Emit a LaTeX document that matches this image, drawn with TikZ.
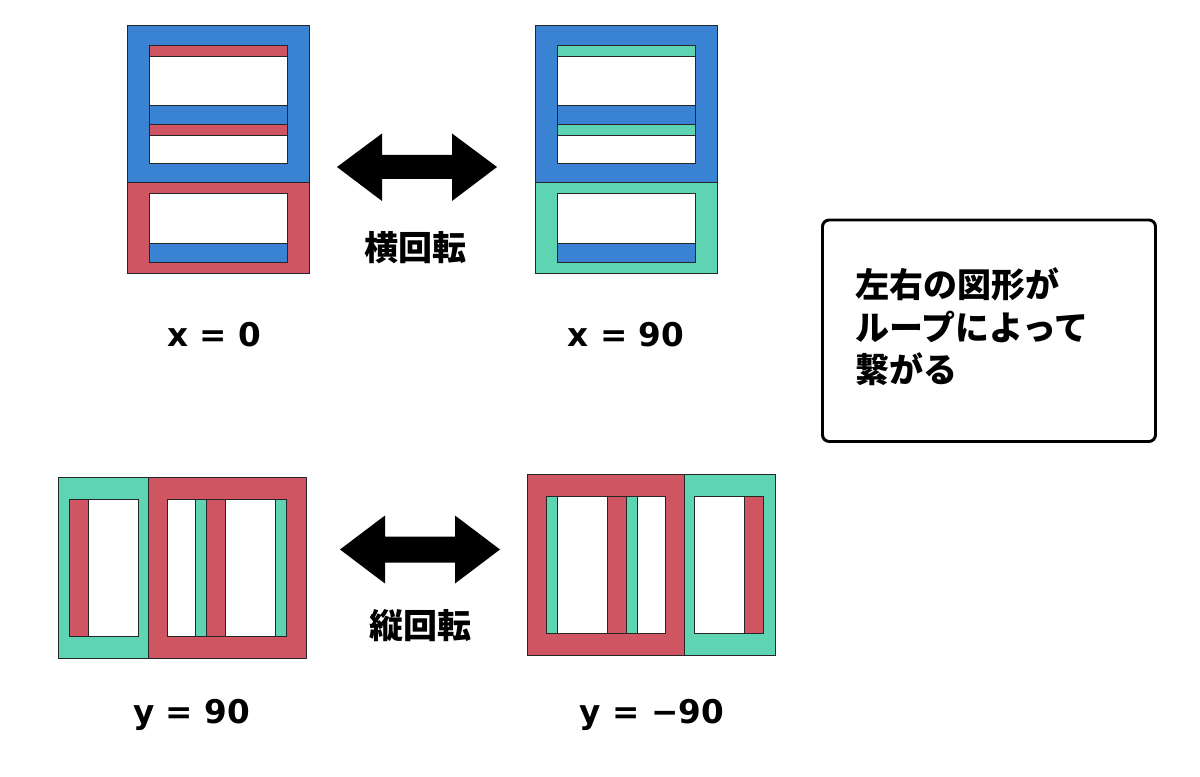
\documentclass[tikz,border=0pt]{standalone}
\usepackage{fontspec}
\setmainfont{Noto Sans CJK JP}
\newfontfamily\valfont{DejaVu Sans}
\usetikzlibrary{positioning}

\definecolor{cblue}{HTML}{3A82D2}
\definecolor{cred}{HTML}{D05562}
\definecolor{cgreen}{HTML}{5ED4B2}

\tikzset{
  part/.style={draw=black!85, line width=0.6pt},
  bluepart/.style={part, fill=cblue},
  redpart/.style={part, fill=cred},
  greenpart/.style={part, fill=cgreen},
  hole/.style={part, fill=white},
  dblarrow/.style={fill=black},
  rotlabel/.style={font=\bfseries\fontsize{25.5pt}{30pt}\selectfont, inner sep=0pt, anchor=center},
  vallabel/.style={font=\valfont\bfseries\fontsize{24.5pt}{29pt}\selectfont, inner sep=0pt, anchor=base},
  notetext/.style={font=\bfseries\fontsize{25.5pt}{30pt}\selectfont, inner sep=0pt, anchor=base west},
}

\begin{document}
\begin{tikzpicture}[x=0.75pt, y=-0.75pt]
    \fill[white] (0,0) rectangle (1200,777);
    \useasboundingbox (0,0) rectangle (1200,777);

    % upper left figure, x = 0
    \draw[bluepart] (127,25.5) rectangle (309,182.5);
    \draw[redpart] (127,182.5) rectangle (309,273);
    \draw[hole] (149,45) rectangle (287,163);
    \draw[redpart] (149,45) rectangle (287,56);
    \draw[bluepart] (149,105.5) rectangle (287,124.5);
    \draw[redpart] (149,124.5) rectangle (287,135.5);
    \draw[hole] (149,193.5) rectangle (287,262);
    \draw[bluepart] (149,243) rectangle (287,262);

    % upper right figure, x = 90
    \begin{scope}[shift={(408,0)}]
      \draw[bluepart] (127,25.5) rectangle (309,182.5);
      \draw[greenpart] (127,182.5) rectangle (309,273);
      \draw[hole] (149,45) rectangle (287,163);
      \draw[greenpart] (149,45) rectangle (287,56);
      \draw[bluepart] (149,105.5) rectangle (287,124.5);
      \draw[greenpart] (149,124.5) rectangle (287,135.5);
      \draw[hole] (149,193.5) rectangle (287,262);
      \draw[bluepart] (149,243) rectangle (287,262);
    \end{scope}

    % lower left figure, y = 90
    \draw[greenpart] (58,477.5) rectangle (148.7,658.5);
    \draw[redpart] (148.7,477.5) rectangle (306,658.5);
    \draw[hole] (69,499.5) rectangle (138,636);
    \draw[redpart] (69,499.5) rectangle (88.3,636);
    \draw[hole] (167.7,499.5) rectangle (286.3,636);
    \draw[greenpart] (195.7,499.5) rectangle (206.7,636);
    \draw[redpart] (206.7,499.5) rectangle (225.7,636);
    \draw[greenpart] (275.7,499.5) rectangle (286.3,636);

    % lower right figure, y = -90
    \draw[redpart] (527.3,474) rectangle (684,655);
    \draw[greenpart] (684,474) rectangle (775,655);
    \draw[hole] (546.7,496) rectangle (665,633);
    \draw[greenpart] (546.7,496) rectangle (557.3,633);
    \draw[redpart] (607.3,496) rectangle (626,633);
    \draw[greenpart] (626,496) rectangle (637,633);
    \draw[hole] (694.7,496) rectangle (763.7,633);
    \draw[redpart] (744.7,496) rectangle (763.7,633);

    % double arrows
    \fill[dblarrow] (337,167) -- (382,133.5) -- (382,155) -- (452,155) -- (452,133.5)
      -- (497,167) -- (452,201) -- (452,179) -- (382,179) -- (382,201) -- cycle;
    \fill[dblarrow] (340,549.5) -- (385,515.5) -- (385,536.5) -- (455,536.5) -- (455,515.5)
      -- (500,549.5) -- (455,583.5) -- (455,562.5) -- (385,562.5) -- (385,583.5) -- cycle;

    \node[rotlabel] (yokolbl) at (415,247.5) {横回転};
    \node[rotlabel] (tatelbl) at (420,626) {縦回転};

    % values
    \node[vallabel] (x0) at (214,346.5) {x = 0};
    \node[vallabel] (x90) at (626,346.5) {x = 90};
    \node[vallabel] (y90) at (191.5,723) {y = 90};
    \node[vallabel] (ym90) at (652,723) {y = −90};

    % note box
    \draw[line width=2.2pt, rounded corners=5pt] (822.5,220) rectangle (1155.5,441.5);
    \node[notetext] (note1) at (855,297.5) {左右の図形が};
    \node[notetext] (note2) at (855,341) {ループによって};
    \node[notetext] (note3) at (855,382.5) {繋がる};
\end{tikzpicture}
\end{document}
